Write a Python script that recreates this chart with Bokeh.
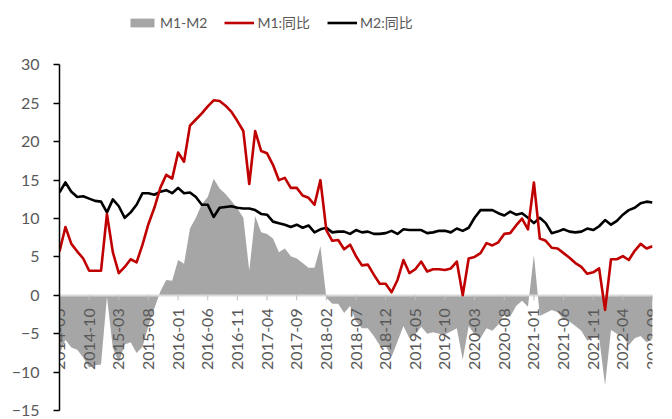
from math import pi
from bokeh.plotting import figure
from bokeh.models import Range1d, FixedTicker, Legend, LegendItem, ColumnDataSource
from bokeh.core.properties import value
from bokeh.embed import file_html
from bokeh.resources import INLINE

# Monthly data, 2014-05 .. 2022-09
m1 = [5.7, 8.9, 6.7, 5.7, 4.8, 3.2, 3.2, 3.2,
      10.6, 5.6, 2.9, 3.7, 4.7, 4.3, 6.6, 9.3, 11.4, 14.0, 15.7, 15.2,
      18.6, 17.4, 22.1, 22.9, 23.7, 24.6, 25.4, 25.3, 24.7, 23.9, 22.7, 21.4,
      14.5, 21.4, 18.8, 18.5, 17.0, 15.0, 15.3, 14.0, 14.0, 13.0, 12.7, 11.8,
      15.0, 8.5, 7.1, 7.2, 6.0, 6.6, 5.1, 3.9, 4.0, 2.7, 1.5, 1.5,
      0.4, 2.0, 4.6, 2.9, 3.4, 4.4, 3.1, 3.4, 3.4, 3.3, 3.5, 4.4,
      0.0, 4.8, 5.0, 5.5, 6.8, 6.5, 6.9, 8.0, 8.1, 9.1, 10.0, 8.6,
      14.7, 7.4, 7.1, 6.2, 6.1, 5.5, 4.9, 4.2, 3.7, 2.8, 3.0, 3.5,
      -1.9, 4.7, 4.7, 5.1, 4.6, 5.8, 6.7, 6.1, 6.4]
m2 = [13.4, 14.7, 13.5, 12.8, 12.9, 12.6, 12.3, 12.2,
      10.8, 12.5, 11.6, 10.1, 10.8, 11.8, 13.3, 13.3, 13.1, 13.5, 13.7, 13.3,
      14.0, 13.3, 13.4, 12.8, 11.8, 11.8, 10.2, 11.4, 11.5, 11.6, 11.4, 11.3,
      11.3, 11.1, 10.6, 10.5, 9.6, 9.4, 9.2, 8.9, 9.2, 8.8, 9.1, 8.2,
      8.6, 8.8, 8.2, 8.3, 8.3, 8.0, 8.5, 8.2, 8.3, 8.0, 8.0, 8.1,
      8.4, 8.0, 8.6, 8.5, 8.5, 8.5, 8.1, 8.2, 8.4, 8.4, 8.2, 8.7,
      8.4, 8.8, 10.1, 11.1, 11.1, 11.1, 10.7, 10.4, 10.9, 10.5, 10.7, 10.1,
      9.4, 10.1, 9.4, 8.1, 8.3, 8.6, 8.3, 8.2, 8.3, 8.7, 8.5, 9.0,
      9.8, 9.2, 9.7, 10.5, 11.1, 11.4, 12.0, 12.2, 12.1]
m1_m2 = [round(a - b, 1) for a, b in zip(m1, m2)]

tick_labels = ["2014-05", "2014-10", "2015-03", "2015-08", "2016-01", "2016-06",
               "2016-11", "2017-04", "2017-09", "2018-02", "2018-07", "2018-12",
               "2019-05", "2019-10", "2020-03", "2020-08", "2021-01", "2021-06",
               "2021-11", "2022-04", "2022-09"]
y_ticks = [-15, -10, -5, 0, 5, 10, 15, 20, 25, 30]

x = list(range(len(m1)))
tick_pos = [(int(s[:4]) - 2014) * 12 + int(s[5:]) - 5 for s in tick_labels]

src = ColumnDataSource(dict(x=x, m1=m1, m2=m2, d=m1_m2))
tsrc = ColumnDataSource(dict(x=tick_pos, y=[0] * len(tick_pos), lab=tick_labels))

FONT = "Lato, 'Noto Sans CJK SC'"

p = figure(width=672, height=419, x_range=Range1d(0, len(m1) - 1), y_range=Range1d(-15, 38.4),
           x_axis_type=None, output_backend="svg", toolbar_location=None,
           min_border_left=59, min_border_right=20, min_border_top=0, min_border_bottom=9)
p.outline_line_color = None
p.ygrid.grid_line_color = None
p.background_fill_color = "white"

ya = p.yaxis[0]
ya.ticker = FixedTicker(ticks=y_ticks)
ya.bounds = (-15, 30)
ya.axis_line_color = "black"
ya.axis_line_width = 1.5
ya.major_tick_line_color = "black"
ya.major_tick_line_width = 1.5
ya.major_tick_out = 6
ya.major_tick_in = 0
ya.minor_tick_line_color = None
ya.major_label_text_font_size = "16px"
ya.major_label_text_color = "#595959"
ya.major_label_text_font = FONT
ya.major_label_standoff = 14

r_area = p.varea(x="x", y1=0, y2="d", source=src, fill_color="#a6a6a6")

# category axis drawn at y = 0
p.hspan(y=[0], line_color="#d9d9d9", line_width=2)
p.segment(x0="x", y0=0, x1="x", y1=-0.65, source=tsrc, line_color="#bfbfbf", line_width=1)
p.text(x="x", y="y", text="lab", source=tsrc, angle=pi / 2, text_align="right",
       text_baseline="middle", y_offset=13, text_font=value("Lato"),
       text_font_size="16px", text_color="#595959")

r_m2 = p.line(x="x", y="m2", source=src, line_color="black", line_width=2.6, line_join="round")
r_m1 = p.line(x="x", y="m1", source=src, line_color="#c00000", line_width=2.6, line_join="round")

legend = Legend(items=[LegendItem(label="M1-M2", renderers=[r_area]),
                       LegendItem(label="M1:同比", renderers=[r_m1]),
                       LegendItem(label="M2:同比", renderers=[r_m2])],
                orientation="horizontal", location=(68, 378),
                glyph_width=30, glyph_height=11, label_standoff=3, spacing=17,
                padding=0, margin=0, label_text_font_size="14px",
                label_text_color="#595959", label_text_font=FONT,
                border_line_color=None, background_fill_alpha=0)
p.add_layout(legend)

open("out.html", "w").write(file_html(p, INLINE))
